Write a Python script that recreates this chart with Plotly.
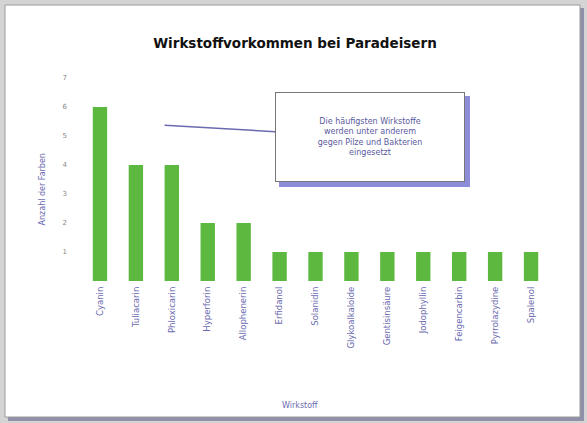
import plotly.graph_objects as go

categories = ["Cyanin", "Tuliacarin", "Phloxicarin", "Hyperforin", "Allophenerin",
              "Erfidanol", "Solanidin", "Glykoalkaloide", "Gentisinsäure",
              "Jodophyllin", "Feigencarbin", "Pyrrolazydine", "Spalenol"]
values = [6, 4, 4, 2, 2, 1, 1, 1, 1, 1, 1, 1, 1]
y_ticks = [1, 2, 3, 4, 5, 6, 7]

title_text = "Wirkstoffvorkommen bei Paradeisern"
x_title = "Wirkstoff"
y_title = "Anzahl der Farben"
callout = "Die häufigsten Wirkstoffe<br>werden unter anderem<br>gegen Pilze und Bakterien<br>eingesetzt"

W, H = 587, 423
L, R, T, B = 82, 38, 78, 142
pw, ph = W - L - R, H - T - B

def px(xp):
    return (xp - L) / pw

def py(yp):
    return (H - B - yp) / ph

fig = go.Figure(go.Bar(
    x=categories, y=values,
    marker=dict(color="#5cb83e", line=dict(width=0)),
))

shapes = [
    dict(type="rect", xref="paper", yref="paper",
         x0=px(8), x1=px(584), y0=py(421), y1=py(8),
         line=dict(width=0), fillcolor="#9090a8", layer="below"),
    dict(type="rect", xref="paper", yref="paper",
         x0=px(5), x1=px(580), y0=py(417), y1=py(5),
         line=dict(color="#9a9a9a", width=1), fillcolor="white", layer="below"),
    dict(type="rect", xref="paper", yref="paper",
         x0=px(279), x1=px(470), y0=py(187), y1=py(96),
         line=dict(width=0), fillcolor="#8c8cd8", layer="below"),
]

fig.update_layout(
    width=W, height=H,
    margin=dict(l=L, r=R, t=T, b=B),
    paper_bgcolor="#d4d4d4", plot_bgcolor="rgba(0,0,0,0)",
    showlegend=False,
    bargap=0.6,
    shapes=shapes,
    title=dict(text="<b>" + title_text + "</b>", x=295 / W, xanchor="center",
               xref="container", y=1 - 43 / H, yanchor="middle",
               font=dict(family="DejaVu Sans", size=13.5, color="#111111")),
    xaxis=dict(tickangle=-90, showgrid=False, showline=False, ticks="",
               ticklabelstandoff=3,
               tickfont=dict(family="DejaVu Sans", size=8.5, color="#6a6ab0"),
               range=[-0.5, len(categories) - 0.5]),
    yaxis=dict(range=[0, 7], tickvals=y_ticks, showgrid=False, showline=False,
               zeroline=False, ticks="", ticklabelstandoff=14,
               tickfont=dict(family="DejaVu Sans", size=7, color="#888888")),
    annotations=[
        dict(text=x_title, xref="paper", yref="paper", x=px(300), y=py(405),
             yanchor="middle",
             showarrow=False, font=dict(family="DejaVu Sans", size=8, color="#6a6ab0")),
        dict(text=y_title, xref="paper", yref="paper", x=px(35), y=py(190),
             showarrow=False, textangle=-90,
             font=dict(family="DejaVu Sans", size=8, color="#6a6ab0")),
        dict(text=callout, xref="x", yref="y", x=1.8, y=5.37,
             ax=205, ay=12, showarrow=True, arrowhead=0, arrowwidth=1.5,
             arrowcolor="#6a6ab0", bgcolor="white", bordercolor="#777777",
             borderwidth=1, borderpad=8, width=172, height=72,
             font=dict(family="DejaVu Sans", size=8, color="#5a5aa0")),
    ],
)

fig.write_html("out.html", config={"displayModeBar": False},
               post_script="document.body.style.margin='0';")
